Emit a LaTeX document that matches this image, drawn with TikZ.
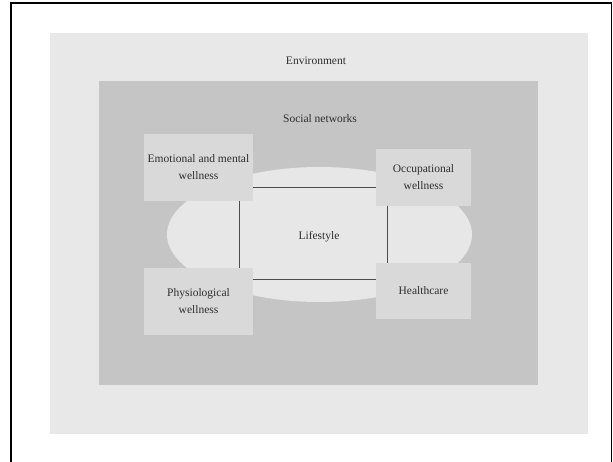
\documentclass[tikz,border=0pt]{standalone}
\usepackage{fontspec}
\setmainfont{Liberation Serif}
\usetikzlibrary{positioning,calc,shapes.geometric}

\definecolor{envgray}{HTML}{E8E8E8}
\definecolor{socgray}{HTML}{C5C5C5}
\definecolor{boxgray}{HTML}{D9D9D9}
\definecolor{lifegray}{HTML}{E7E7E7}
\definecolor{txtgray}{HTML}{2E2E2E}

\tikzset{
    label/.style={text=txtgray, font=\fontsize{11.5}{17}\selectfont, align=center},
    factor/.style={label, fill=boxgray, inner sep=0pt},
    link/.style={draw=black!70, line width=0.9pt}
}

\begin{document}
\begin{tikzpicture}[x=1pt, y=-1pt]
    \useasboundingbox (0,0) rectangle (613,461);
    \fill[white] (0,0) rectangle (613,461);
    \draw[line width=1.2pt] (11,470) -- (11,3) -- (611.5,3) -- (611.5,470);

    \fill[envgray] (50,33) rectangle (588,434);
    \fill[socgray] (99,81) rectangle (538,385);

    \node[label] (env) at (316,61) {Environment};
    \node[label] (soc) at (320,119) {Social networks};

    \node[label, ellipse, fill=lifegray, minimum width=305pt, minimum height=135pt]
        (life) at (319.5,234.5) {};
    \node[label] (lifetxt) at (319,237) {Lifestyle};

    \node[factor, minimum width=109pt, minimum height=67pt] (emo) at (198.5,167.5) {Emotional and mental\\wellness};
    \node[factor, minimum width=95pt, minimum height=57pt] (occ) at (423.5,177.5) {Occupational\\wellness};
    \node[factor, minimum width=109pt, minimum height=67pt] (phys) at (198.5,301.5) {Physiological\\wellness};
    \node[factor, minimum width=95pt, minimum height=56pt] (health) at (423.5,291) {Healthcare};

    % links between the four factors
    \draw[link] ($(emo.south east)+(0,-14)$) coordinate (t) -- (t -| occ.west);
    \draw[link] ($(phys.north east)+(0,12)$) coordinate (b) -- (b -| health.west);
    \draw[link] ($(emo.south east)+(-14,0)$) coordinate (l) -- (l |- phys.north);
    \draw[link] ($(occ.south west)+(12,0)$) coordinate (r) -- (r |- health.north);
\end{tikzpicture}
\end{document}
